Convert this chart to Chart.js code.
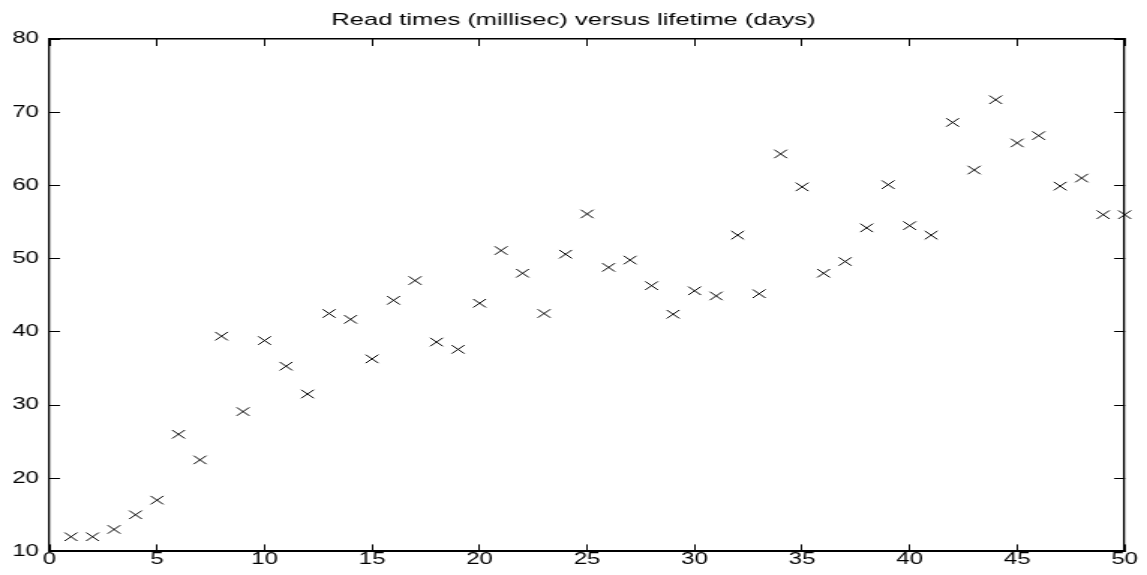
<!DOCTYPE html>
<html>
<head>
<meta charset="utf-8">
<script src="https://cdn.jsdelivr.net/npm/chart.js@4.4.1/dist/chart.umd.min.js"></script>
<style>
   html, body { margin: 0; padding: 0; background: #ffffff; }
</style>
</head>
<body>
<!-- the reference is a 4:3 figure stretched sideways, so the canvas is drawn narrow and scaled in css -->
<canvas id="graph" width="765" height="575" style="display: block; width: 1147px; height: 575px;"></canvas>
<script>
const titleText = "Read times (millisec) versus lifetime (days)";

const days = [1, 2, 3, 4, 5, 6, 7, 8, 9, 10,
              11, 12, 13, 14, 15, 16, 17, 18, 19, 20,
              21, 22, 23, 24, 25, 26, 27, 28, 29, 30,
              31, 32, 33, 34, 35, 36, 37, 38, 39, 40,
              41, 42, 43, 44, 45, 46, 47, 48, 49, 50];

const readTimes = [12, 12, 13, 15, 17, 26, 22.5, 39.4, 29.1, 38.8,
                   35.3, 31.5, 42.5, 41.7, 36.3, 44.3, 47, 38.6, 37.6, 43.9,
                   51.1, 48, 42.5, 50.6, 56.1, 48.8, 49.8, 46.3, 42.4, 45.6,
                   44.9, 53.2, 45.2, 64.3, 59.8, 48, 49.6, 54.2, 60.1, 54.5,
                   53.2, 68.6, 62.1, 71.7, 65.8, 66.8, 59.9, 61, 56, 56];

const xTickValues = [0, 5, 10, 15, 20, 25, 30, 35, 40, 45, 50];
const yTickValues = [10, 20, 30, 40, 50, 60, 70, 80];

const canvasCtx = document.getElementById("graph").getContext("2d");

const points = days.map((d, i) => ({ x: d, y: readTimes[i] }));

const tickFont = { family: "'Liberation Sans', Arial, sans-serif", size: 16 };

function setTicks(values)
{
   return function (scale)
   {
      scale.ticks = values.map(v => ({ value: v }));
   };
}

function fixWidth(w)
{
   return function (scale) { scale.width = w; };
}

function fixHeight(h)
{
   return function (scale) { scale.height = h; };
}

new Chart(canvasCtx,
{
   type: "scatter",
   data:
   {
      datasets:
      [{
         data: points,
         pointStyle: "crossRot",
         pointRadius: 6,
         pointBorderWidth: 1,
         borderColor: "#000000",
         backgroundColor: "#000000",
         clip: false
      }]
   },
   options:
   {
      animation: false,
      responsive: false,
      events: [],
      layout: { padding: 0 },
      scales:
      {
         x:
         {
            type: "linear",
            position: "bottom",
            min: 0,
            max: 50,
            afterBuildTicks: setTicks(xTickValues),
            afterFit: fixHeight(23),
            grid:
            {
               drawOnChartArea: false,
               tickLength: -7,
               tickColor: "#000000",
               tickWidth: 1
            },
            border: { display: true, color: "#000000", width: 2 },
            ticks:
            {
               color: "#000000",
               font: tickFont,
               padding: 6,
               maxRotation: 0,
               autoSkip: false
            }
         },
         x2:
         {
            type: "linear",
            position: "top",
            min: 0,
            max: 50,
            afterBuildTicks: setTicks(xTickValues),
            afterFit: fixHeight(0),
            grid:
            {
               drawOnChartArea: false,
               tickLength: -7,
               tickColor: "#000000",
               tickWidth: 1
            },
            border: { display: true, color: "#000000", width: 1.5 },
            ticks: { display: false }
         },
         y:
         {
            type: "linear",
            position: "left",
            min: 10,
            max: 80,
            afterBuildTicks: setTicks(yTickValues),
            afterFit: fixWidth(33),
            grid:
            {
               drawOnChartArea: false,
               tickLength: -7,
               tickColor: "#000000",
               tickWidth: 1
            },
            border: { display: true, color: "#000000", width: 1.3 },
            ticks:
            {
               color: "#000000",
               font: tickFont,
               padding: 14
            }
         },
         y2:
         {
            type: "linear",
            position: "right",
            min: 10,
            max: 80,
            afterBuildTicks: setTicks(yTickValues),
            afterFit: fixWidth(11),
            grid:
            {
               drawOnChartArea: false,
               tickLength: -7,
               tickColor: "#000000",
               tickWidth: 1
            },
            border: { display: true, color: "#000000", width: 1.3 },
            ticks: { display: false }
         }
      },
      plugins:
      {
         legend: { display: false },
         tooltip: { enabled: false },
         title:
         {
            display: true,
            text: titleText,
            color: "#000000",
            font: { family: "'Liberation Sans', Arial, sans-serif", size: 17, weight: "normal" },
            padding: { top: 10, bottom: 8.6 }
         }
      }
   }
});
</script>
</body>
</html>
